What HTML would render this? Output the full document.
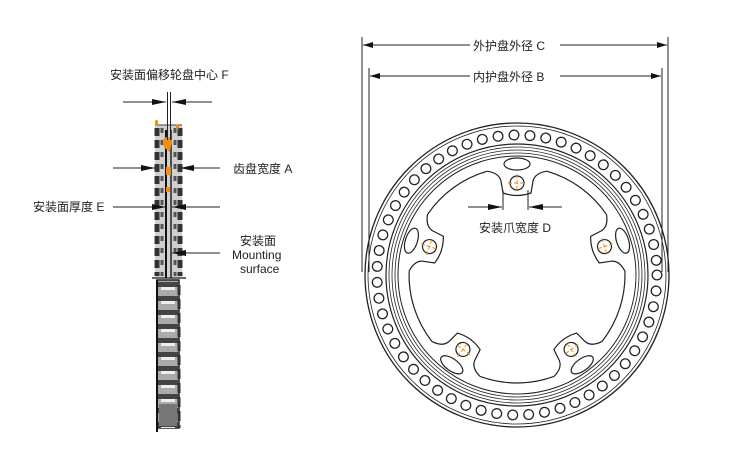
<!DOCTYPE html>
<html><head><meta charset="utf-8"><style>
body{margin:0;background:#fff;width:741px;height:461px;overflow:hidden}
svg{display:block}
text{font-family:"Liberation Sans","Noto Sans CJK SC",sans-serif;font-size:12px;fill:#222}
</style></head><body>
<svg width="741" height="461" viewBox="0 0 741 461">
<defs>
<marker id="ar" viewBox="0 0 10 6" refX="10" refY="3" markerWidth="10" markerHeight="6" orient="auto" markerUnits="userSpaceOnUse"><path d="M0,0 L10,3 L0,6 Z" fill="#111"/></marker>
<marker id="ab" viewBox="0 0 14 6" refX="14" refY="3" markerWidth="14" markerHeight="6" orient="auto" markerUnits="userSpaceOnUse"><path d="M0,0 L14,3 L0,6 Z" fill="#111"/></marker>
</defs>

<!-- ===== side view ===== -->
<g>
<rect x="155" y="125" width="27" height="152" fill="#d0d0d0"/>
<line x1="157" y1="128" x2="157" y2="276" stroke="#333" stroke-width="5" stroke-dasharray="8 4"/>
<line x1="180" y1="128" x2="180" y2="276" stroke="#333" stroke-width="5" stroke-dasharray="8 4"/>
<line x1="162" y1="128" x2="162" y2="276" stroke="#555" stroke-width="3" stroke-dasharray="5 7"/>
<line x1="175" y1="128" x2="175" y2="276" stroke="#555" stroke-width="3" stroke-dasharray="5 7"/>
<line x1="166" y1="130" x2="166" y2="278" stroke="#111" stroke-width="2"/>
<line x1="171" y1="130" x2="171" y2="278" stroke="#222" stroke-width="1.5"/>
<line x1="156" y1="125" x2="182" y2="125" stroke="#444" stroke-width="1"/>
<line x1="152" y1="278" x2="186" y2="278" stroke="#111" stroke-width="1.2"/>
<rect x="157" y="280" width="22" height="148" fill="#aaa" stroke="#222" stroke-width="1.5"/>
<line x1="168" y1="282" x2="168" y2="428" stroke="#444" stroke-width="20" stroke-dasharray="5 9"/>
<line x1="168" y1="287" x2="168" y2="428" stroke="#eee" stroke-width="14" stroke-dasharray="3 11"/>
<line x1="157" y1="280" x2="157" y2="432" stroke="#111" stroke-width="2"/>
<line x1="179" y1="285" x2="179" y2="428" stroke="#333" stroke-width="3" stroke-dasharray="10 4"/>
<rect x="159" y="404" width="18" height="22" fill="#777"/>
<rect x="155" y="120" width="3" height="6" rx="1.5" fill="#f08c10"/>
<rect x="176" y="124" width="3" height="5" rx="1.5" fill="#f08c10"/>
<path d="M163,140 Q168,133 172,141 L170,152 Q166,150 163,145 Z" fill="#f08c10"/>
<rect x="166" y="167" width="5" height="8" fill="#f08c10"/>
<rect x="166" y="187" width="4" height="5" fill="#f08c10"/>
</g>
<line x1="167.5" y1="92" x2="167.5" y2="140" stroke="#222" stroke-width="1"/>
<line x1="170.5" y1="92" x2="170.5" y2="140" stroke="#222" stroke-width="1"/>
<line x1="123" y1="102" x2="166" y2="102" stroke="#222" marker-end="url(#ab)"/>
<line x1="212" y1="102" x2="172" y2="102" stroke="#222" marker-end="url(#ab)"/>
<text x="110" y="79">安装面偏移轮盘中心 F</text>
<line x1="113" y1="168" x2="155" y2="168" stroke="#222" marker-end="url(#ab)"/>
<line x1="220" y1="168" x2="180" y2="168" stroke="#222" marker-end="url(#ab)"/>
<text x="233" y="173">齿盘宽度 A</text>
<line x1="113" y1="207" x2="166" y2="207" stroke="#222" marker-end="url(#ab)"/>
<line x1="220" y1="207" x2="172" y2="207" stroke="#222" marker-end="url(#ab)"/>
<text x="33" y="211">安装面厚度 E</text>
<line x1="220" y1="253" x2="172" y2="253" stroke="#222" marker-end="url(#ab)"/>
<text x="240" y="245">安装面</text>
<text x="232" y="259">Mounting</text>
<text x="240" y="273">surface</text>

<!-- ===== front view dims ===== -->
<line x1="362" y1="37" x2="362" y2="272" stroke="#222"/>
<line x1="668" y1="37" x2="668" y2="272" stroke="#222"/>
<line x1="369" y1="68" x2="369" y2="272" stroke="#222"/>
<line x1="662" y1="68" x2="662" y2="272" stroke="#222"/>
<line x1="470" y1="45" x2="363" y2="45" stroke="#222" marker-end="url(#ar)"/>
<line x1="560" y1="45" x2="667" y2="45" stroke="#222" marker-end="url(#ar)"/>
<text x="473" y="50">外护盘外径 C</text>
<line x1="470" y1="76" x2="370" y2="76" stroke="#222" marker-end="url(#ar)"/>
<line x1="560" y1="76" x2="661" y2="76" stroke="#222" marker-end="url(#ar)"/>
<text x="473" y="81">内护盘外径 B</text>

<!-- ===== ring ===== -->
<g fill="none" stroke="#222">
<circle cx="517" cy="275" r="152" stroke-width="1.3"/>
<circle cx="517" cy="275" r="149" stroke-width="0.8"/>
<circle cx="517" cy="275" r="140" stroke="#222" stroke-width="11" stroke-dasharray="0.01 16.0" stroke-linecap="round"/>
<circle cx="517" cy="275" r="140" stroke="#fff" stroke-width="8.4" stroke-dasharray="0.01 16.0" stroke-linecap="round"/>
<circle cx="517" cy="275" r="131" stroke-width="1.2"/>
<circle cx="517" cy="275" r="128" stroke-width="0.8"/>
<circle cx="517" cy="275" r="125" stroke-width="0.8"/>
<circle cx="517" cy="275" r="122" stroke-width="0.8"/>
<circle cx="517" cy="275" r="119" stroke-width="1"/>
</g>
<g id="arm">
<path transform="translate(517,275)" fill="none" stroke="#222" stroke-width="1.2"
 d="M-29.8,-103.8 Q-18,-102 -16,-94 L-14,-82 Q0,-77 14,-82 L16,-94 Q18,-102 29.8,-103.8 A108 108 0 0 1 89.5,-60.4"/>
<ellipse cx="517" cy="164" rx="13" ry="6" fill="none" stroke="#222" stroke-width="1.2"/>
<circle cx="517" cy="183" r="7" fill="none" stroke="#222" stroke-width="1.2"/>
<path d="M508,183 H526 M517,174 V192" stroke="#f08c10" stroke-width="1" stroke-dasharray="4 2"/>
</g>
<use href="#arm" transform="rotate(72 517 275)"/>
<use href="#arm" transform="rotate(144 517 275)"/>
<use href="#arm" transform="rotate(216 517 275)"/>
<use href="#arm" transform="rotate(288 517 275)"/>

<line x1="503" y1="190" x2="503" y2="210" stroke="#222"/>
<line x1="528" y1="190" x2="528" y2="210" stroke="#222"/>
<line x1="468" y1="207" x2="502" y2="207" stroke="#222" marker-end="url(#ab)"/>
<line x1="562" y1="207" x2="529" y2="207" stroke="#222" marker-end="url(#ab)"/>
<text x="479" y="232">安装爪宽度 D</text>
</svg>
</body></html>
